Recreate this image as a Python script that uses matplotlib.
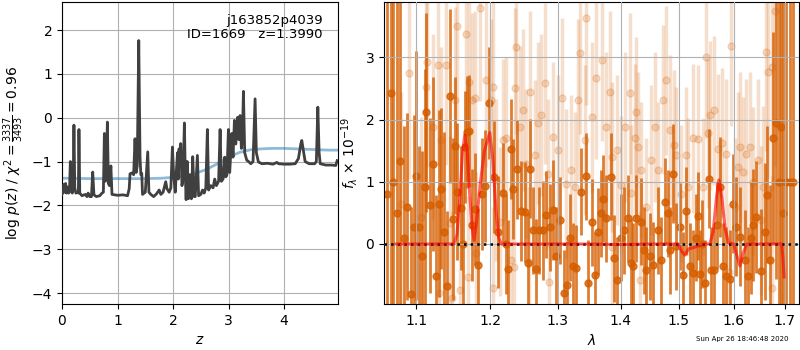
import numpy as np
import matplotlib
matplotlib.use("Agg")
import matplotlib.pyplot as plt
from matplotlib.ticker import FormatStrFormatter, NullLocator

# ---------------- left panel: log p(z) ----------------
z_grid = [0.00, 0.02, 0.035, 0.05, 0.065, 0.08, 0.10, 0.12, 0.135, 0.15, 0.165, 0.185, 0.20, 0.215,
          0.23, 0.25, 0.28, 0.295, 0.305, 0.32, 0.36, 0.42, 0.45, 0.47, 0.50, 0.53, 0.553, 0.575,
          0.62, 0.68, 0.72, 0.745, 0.763, 0.78, 0.795, 0.817, 0.835, 0.855, 0.88, 0.90, 1.00, 1.10,
          1.18, 1.21, 1.225, 1.26, 1.29, 1.315, 1.335, 1.355, 1.382, 1.405, 1.42, 1.436, 1.45, 1.50,
          1.544, 1.565, 1.60, 1.65, 1.70, 1.75, 1.78, 1.82, 1.868, 1.89, 1.93, 1.96, 1.988, 2.01,
          2.04, 2.06, 2.08, 2.095, 2.108, 2.125, 2.138, 2.16, 2.18, 2.204, 2.22, 2.235, 2.255, 2.275,
          2.30, 2.33, 2.354, 2.38, 2.40, 2.438, 2.46, 2.50, 2.53, 2.56, 2.59, 2.618, 2.64, 2.68,
          2.72, 2.75, 2.78, 2.82, 2.847, 2.87, 2.90, 2.93, 2.95, 2.97, 2.997, 3.02, 3.057, 3.08,
          3.105, 3.13, 3.165, 3.185, 3.207, 3.23, 3.25, 3.267, 3.29, 3.327, 3.36, 3.40, 3.44, 3.477,
          3.50, 3.537, 3.60, 3.70, 3.80, 3.87, 3.90, 4.00, 4.10, 4.20, 4.258, 4.30, 4.318, 4.34,
          4.378, 4.45, 4.55, 4.58, 4.607, 4.63, 4.65, 4.75, 4.85, 4.93, 4.955]
log_pz = [-1.75, -1.70, -1.52, -1.70, -1.50, -1.72, -1.58, -1.72, -1.68, -1.00, -1.65, -1.72, -1.62, -0.17,
          -1.60, -1.72, -1.70, -1.72, -0.27, -1.72, -1.78, -1.75, -1.80, -1.72, -1.80, -1.80, -1.24, -1.76,
          -1.80, -1.78, -1.72, -1.70, -0.36, -1.45, -1.40, -0.10, -1.50, -1.55, -1.10, -1.75, -1.77, -1.76,
          -1.78, -1.62, -1.28, -1.26, -1.30, -0.48, -1.25, -1.10, 1.76, -0.90, -1.30, -1.27, -1.75, -1.70,
          -0.78, -1.70, -1.75, -1.80, -1.74, -1.65, -1.75, -1.70, -1.46, -1.62, -1.70, -1.60, -0.67, -1.30,
          -1.70, -1.20, -0.80, -1.40, -0.71, -1.10, -0.59, -1.55, -1.40, -0.12, -1.30, -1.87, -1.00, -1.85,
          -1.30, -1.85, -0.89, -1.80, -1.80, -0.86, -1.78, -1.75, -1.65, -1.72, -1.60, -0.27, -1.65, -1.55,
          -1.60, -1.40, -1.55, -1.45, -0.27, -1.45, -1.40, -0.90, -1.35, -1.30, -0.27, -1.25, -0.36, -0.90,
          -0.06, -0.60, 0.01, -0.50, 0.05, -0.70, -0.40, 0.60, -0.80, -0.97, -1.00, -1.05, -1.00, 0.43,
          -0.80, -1.01, -1.05, -1.04, -1.06, -1.02, -1.05, -1.06, -1.06, -1.05, -0.93, -0.60, -0.52, -0.70,
          -1.00, -1.05, -1.05, -1.00, 0.24, -0.80, -1.05, -1.08, -1.08, -1.09, -0.98]

z_prior = [0.0, 0.5, 1.0, 1.5, 1.8, 2.0, 2.2, 2.4, 2.6, 2.8, 3.0, 3.2, 3.4, 3.6, 3.8, 4.0, 4.2, 4.4, 4.6, 4.8, 4.97]
log_prior = [-1.38, -1.39, -1.39, -1.39, -1.38, -1.36, -1.33, -1.27, -1.18, -1.05, -0.90, -0.79, -0.73,
             -0.71, -0.70, -0.70, -0.71, -0.72, -0.73, -0.74, -0.74]

# ---------------- right panel: spectrum ----------------
wave_a = [1.0624, 1.0671, 1.0705, 1.0745, 1.0789, 1.0835, 1.0880, 1.0926, 1.0965, 1.1000, 1.1034, 1.1075,
          1.1113, 1.1122, 1.1174, 1.1218, 1.1263, 1.1294, 1.1321, 1.1360, 1.1406, 1.1446, 1.1480, 1.1509,
          1.1541, 1.1591, 1.1620, 1.1646, 1.1678, 1.1711, 1.1750, 1.1785, 1.1831, 1.1880, 1.1934, 1.1991,
          1.2057, 1.2120, 1.2186, 1.2225, 1.2259, 1.2302, 1.2331, 1.2390, 1.2453, 1.2507, 1.2545, 1.2582,
          1.2626, 1.2670, 1.2716, 1.2776, 1.2827, 1.2877, 1.2928, 1.2980, 1.3030, 1.3092, 1.3143, 1.3190,
          1.3237, 1.3289, 1.3363, 1.3437, 1.3474, 1.3537, 1.3585, 1.3630, 1.3677, 1.3714, 1.3769, 1.3850,
          1.3894, 1.3949, 1.4000, 1.4059, 1.4125, 1.4170, 1.4209, 1.4265, 1.4349, 1.4390, 1.4434, 1.4491,
          1.4548, 1.4635, 1.4692, 1.4750, 1.4808, 1.4850, 1.4896, 1.4955, 1.5026, 1.5073, 1.5133, 1.5193,
          1.5253, 1.5300, 1.5343, 1.5373, 1.5420, 1.5464, 1.5538, 1.5587, 1.5636, 1.5690, 1.5741, 1.5803,
          1.5866, 1.5941, 1.5991, 1.6054, 1.6118, 1.6213, 1.6284, 1.6330, 1.6374, 1.6438, 1.6536, 1.6600,
          1.6647, 1.6699, 1.6765, 1.6831, 1.6880, 1.6931, 1.6960, 1.7015, 1.7105, 1.7156]
flux_a = [0.80, 2.43, 1.00, 0.50, 1.33, 0.10, 0.60, -0.81, 0.27, 1.10, 0.27, -0.20,
          0.91, 2.12, 0.62, 1.29, -0.52, 0.65, 0.89, 0.20, -0.67, 2.38, 0.40, 1.58,
          0.84, 0.58, 0.00, 1.56, 1.80, 1.81, 0.30, 0.57, -0.34, 0.80, 0.93, 2.26,
          1.07, 0.20, 0.82, 0.00, -0.41, 1.53, 0.88, 1.20, 0.53, 0.51, -0.30, 1.21,
          0.22, -0.40, 0.22, 0.22, 0.47, 0.27, 0.55, -0.20, 0.38, -0.79, -0.66, 0.10,
          -0.36, -0.39, 0.84, 1.09, -0.63, 0.35, -0.50, 0.20, 0.49, 0.73, 0.41, 1.08,
          -0.23, -0.58, 0.10, 0.22, 0.41, -0.30, -0.36, 0.41, 0.36, -0.10, -0.42, -0.20,
          -0.34, 0.22, -0.26, 0.68, 0.49, -0.10, 1.13, -0.04, 0.28, -0.50, 0.53, -0.36,
          -0.47, 0.10, 0.45, -0.48, 0.00, -0.63, 1.05, -0.42, -0.42, 0.30, 0.92, -0.36,
          -0.52, -0.57, 0.65, 0.28, 0.12, -0.26, -0.52, 0.10, 0.30, 0.44, -0.44, 0.20,
          0.79, -0.26, 1.70, 1.94, 1.00, 1.88, 0.50, 1.00, 1.00, 1.00]
err_a = [9.0, 5.0, 9.0, 6.0, 3.0, 1.8, 1.5, 1.4, 1.8, 2.0, 1.3, 1.7,
         1.9, 1.6, 1.4, 1.4, 1.3, 1.5, 1.3, 1.6, 1.2, 1.4, 1.3, 1.1,
         1.1, 1.0, 1.0, 0.9, 0.9, 0.9, 0.9, 0.9, 0.9, 0.9, 0.9, 0.9,
         0.9, 0.9, 0.8, 0.8, 0.8, 0.8, 0.8, 0.8, 0.8, 0.8, 0.8, 0.8,
         0.7, 0.8, 0.7, 0.8, 0.7, 0.7, 0.8, 0.8, 0.7, 0.7, 0.7, 0.7,
         0.7, 0.7, 0.7, 0.7, 0.7, 0.7, 0.7, 0.7, 0.7, 0.7, 0.7, 0.7,
         0.7, 0.7, 0.7, 0.7, 0.7, 0.7, 0.7, 0.7, 0.7, 0.7, 0.7, 0.7,
         0.7, 0.7, 0.7, 0.7, 0.7, 0.7, 0.8, 0.7, 0.7, 0.7, 0.7, 0.7,
         0.7, 0.7, 0.7, 0.7, 0.7, 0.7, 0.8, 0.7, 0.7, 0.7, 0.8, 0.7,
         0.8, 0.8, 0.8, 0.8, 0.8, 0.8, 0.8, 0.9, 0.9, 0.9, 1.0, 1.1,
         1.1, 1.2, 1.7, 2.5, 4.0, 3.5, 6.0, 9.0, 9.0, 9.0]

wave_b = [1.0806, 1.0906, 1.1064, 1.1131, 1.1144, 1.1218, 1.1285, 1.1294, 1.1330, 1.1388, 1.1442,
          1.1474, 1.1509, 1.1541, 1.1577, 1.1669, 1.1692, 1.1706, 1.1748, 1.1785, 1.1808, 1.1855,
          1.1939, 1.2019, 1.2038, 1.2043, 1.2091, 1.2138, 1.2186, 1.2235, 1.2307, 1.2351, 1.2356,
          1.2380, 1.2429, 1.2478, 1.2527, 1.2572, 1.2587, 1.2651, 1.2701, 1.2741, 1.2801, 1.2852,
          1.2872, 1.2928, 1.3005, 1.3066, 1.3133, 1.3211, 1.3263, 1.3310, 1.3342, 1.3421, 1.3448,
          1.3532, 1.3607, 1.3704, 1.3769, 1.3834, 1.3855, 1.3866, 1.3944, 1.4015, 1.4070, 1.4153,
          1.4181, 1.4237, 1.4254, 1.4293, 1.4326, 1.4349, 1.4423, 1.4520, 1.4577, 1.4635, 1.4721,
          1.4768, 1.4838, 1.4914, 1.4955, 1.5044, 1.5121, 1.5163, 1.5253, 1.5343, 1.5434, 1.5495,
          1.5526, 1.5556, 1.5630, 1.5710, 1.5785, 1.5853, 1.5916, 1.5960, 1.6022, 1.6086, 1.6118,
          1.6181, 1.6232, 1.6309, 1.6374, 1.6470, 1.6536, 1.6568, 1.6634, 1.6667, 1.6745, 1.6752,
          1.6798]
flux_b = [0.65, 2.75, 0.44, 2.52, 2.93, 1.88, 2.87, -0.79, 1.67, 2.87, 0.33,
          -0.87, 2.31, 3.50, -0.74, 3.38, -0.53, 2.61, 2.31, 2.34, -0.15, 3.80,
          2.63, 2.31, -0.71, 2.52, 1.03, 0.36, 1.67, 1.70, -0.26, -0.37, 2.50,
          3.17, 1.88, 2.15, 1.29, -0.29, 2.44, 1.43, 1.94, 2.07, 2.58, 1.13,
          -0.61, 1.72, 1.51, 2.34, 0.97, 1.19, 0.92, 2.31, 3.07, 1.67, 3.64,
          2.04, 2.66, 2.95, 1.88, 2.44, -0.05, 1.40, 1.51, 0.95, 1.88, 2.42,
          0.82, 1.70, 2.12, 1.56, -0.58, 1.19, 0.60, 1.35, 1.88, 1.19, 2.32,
          2.63, 1.83, 1.59, 1.43, 0.81, 1.43, 0.92, 1.70, 1.68, 0.92, 3.00,
          1.78, 2.07, 2.15, 1.53, 1.63, 1.45, -0.45, 3.19, 0.60, 1.24, 1.56,
          1.16, 1.45, 1.56, 1.00, 1.35, 0.38, 0.92, 3.09, 2.76, 2.84, -0.71,
          3.75]
err_b = [1.8, 1.7, 1.6, 1.6, 1.7, 1.5, 1.6, 1.5, 1.5, 1.6, 1.4,
         1.4, 1.5, 1.5, 1.4, 1.5, 1.3, 1.4, 1.4, 1.4, 1.3, 1.5,
         1.4, 1.3, 1.3, 1.4, 1.3, 1.2, 1.3, 1.3, 1.2, 1.2, 1.3,
         1.4, 1.3, 1.3, 1.2, 1.2, 1.3, 1.2, 1.3, 1.3, 1.3, 1.2,
         1.2, 1.2, 1.2, 1.3, 1.2, 1.2, 1.2, 1.3, 1.3, 1.2, 1.4,
         1.2, 1.3, 1.3, 1.2, 1.3, 1.2, 1.2, 1.2, 1.1, 1.2, 1.3,
         1.1, 1.2, 1.2, 1.2, 1.1, 1.1, 1.1, 1.2, 1.2, 1.1, 1.2,
         1.2, 1.2, 1.2, 1.1, 1.1, 1.1, 1.1, 1.2, 1.2, 1.1, 1.3,
         1.2, 1.2, 1.2, 1.2, 1.2, 1.2, 1.1, 1.3, 1.1, 1.2, 1.2,
         1.2, 1.2, 1.2, 1.2, 1.3, 1.2, 1.3, 1.6, 1.7, 2.0, 1.8,
         2.5]

wave_model = [1.0734, 1.1000, 1.1300, 1.1497, 1.1540, 1.1580, 1.1615, 1.1646, 1.1680, 1.1715, 1.1750,
              1.1775, 1.1810, 1.1860, 1.1920, 1.1996, 1.2040, 1.2080, 1.2123, 1.2160, 1.2500, 1.3000,
              1.3500, 1.4000, 1.4500, 1.4986, 1.5050, 1.5105, 1.5170, 1.5254, 1.5350, 1.5478, 1.5556,
              1.5620, 1.5680, 1.5726, 1.5780, 1.5840, 1.5905, 1.6000, 1.6060, 1.6120, 1.6180, 1.6253,
              1.6500, 1.6932, 1.6960, 1.6985]
flux_model = [0.0, 0.0, 0.0, 0.0, 0.15, 0.75, 1.45, 1.75, 1.50, 0.80, 0.25,
              0.06, 0.35, 0.95, 1.50, 1.79, 1.35, 0.60, 0.10, 0.0, 0.0, 0.0,
              0.0, -0.01, 0.0, 0.0, -0.12, -0.18, -0.08, -0.06, -0.03, 0.0, 0.0,
              0.20, 0.75, 1.03, 0.75, 0.25, 0.02, 0.0, -0.18, -0.35, -0.15, 0.0,
              0.0, 0.0, -0.20, -0.53]

lam_ticks = [1.1, 1.2, 1.3, 1.4, 1.5, 1.6, 1.7]

grism_color = (0.8352941176470589, 0.3686274509803922, 0.0)

fig = plt.figure(figsize=(8, 3.5), dpi=100)
ax1 = fig.add_axes([0.0775, 0.1314, 0.345, 0.863])
ax2 = fig.add_axes([0.48, 0.1314, 0.519, 0.863])

# left
ax1.plot(z_grid, log_pz, color='0.25', lw=2, zorder=3)
ax1.plot(z_prior, log_prior, color='#1f77b4', alpha=0.5, lw=2, zorder=2)
ax1.set_xlim(0, 4.97)
ax1.set_ylim(-4.25, 2.64)
ax1.set_xticks([0, 1, 2, 3, 4])
ax1.set_yticks([-4, -3, -2, -1, 0, 1, 2])
ax1.grid(True)
ax1.set_xlabel('$z$')
ax1.set_ylabel(r'log $p(z)$ / $\chi^2=\frac{3337}{3493}=0.96$')
ax1.text(0.945, 0.96, 'j163852p4039\nID=1669   z=1.3990', ha='right', va='top',
         transform=ax1.transAxes, fontsize=9.5, linespacing=1.1)

# right
ax2.errorbar(wave_b, flux_b, yerr=err_b, color=grism_color, alpha=0.2, marker='o', ms=5,
             linestyle='None', elinewidth=2.5, zorder=1)
ax2.errorbar(wave_a, flux_a, yerr=err_a, color=grism_color, alpha=0.8, marker='o', ms=5,
             linestyle='None', elinewidth=2.0, zorder=2)
ax2.axhline(0, color='k', linestyle=':', lw=1.8, zorder=4)
ax2.plot(wave_model, flux_model, color='r', alpha=0.6, lw=2.2, zorder=5)
ax2.set_xscale('log')
ax2.set_xlim(1.0587, 1.729)
ax2.set_ylim(-0.965, 3.89)
ax2.set_xticks(lam_ticks)
ax2.xaxis.set_major_formatter(FormatStrFormatter('%.1f'))
ax2.xaxis.set_minor_locator(NullLocator())
ax2.set_yticks([0, 1, 2, 3])
ax2.grid(True)
ax2.set_axisbelow(False)
ax2.set_xlabel(r'$\lambda$')
ax2.set_ylabel(r'$f_\lambda\,\times\,10^{-19}$')

fig.text(0.985, 0.031, 'Sun Apr 26 18:46:48 2020', ha='right', va='center', fontsize=5)

fig.savefig('out.png', dpi=100)
